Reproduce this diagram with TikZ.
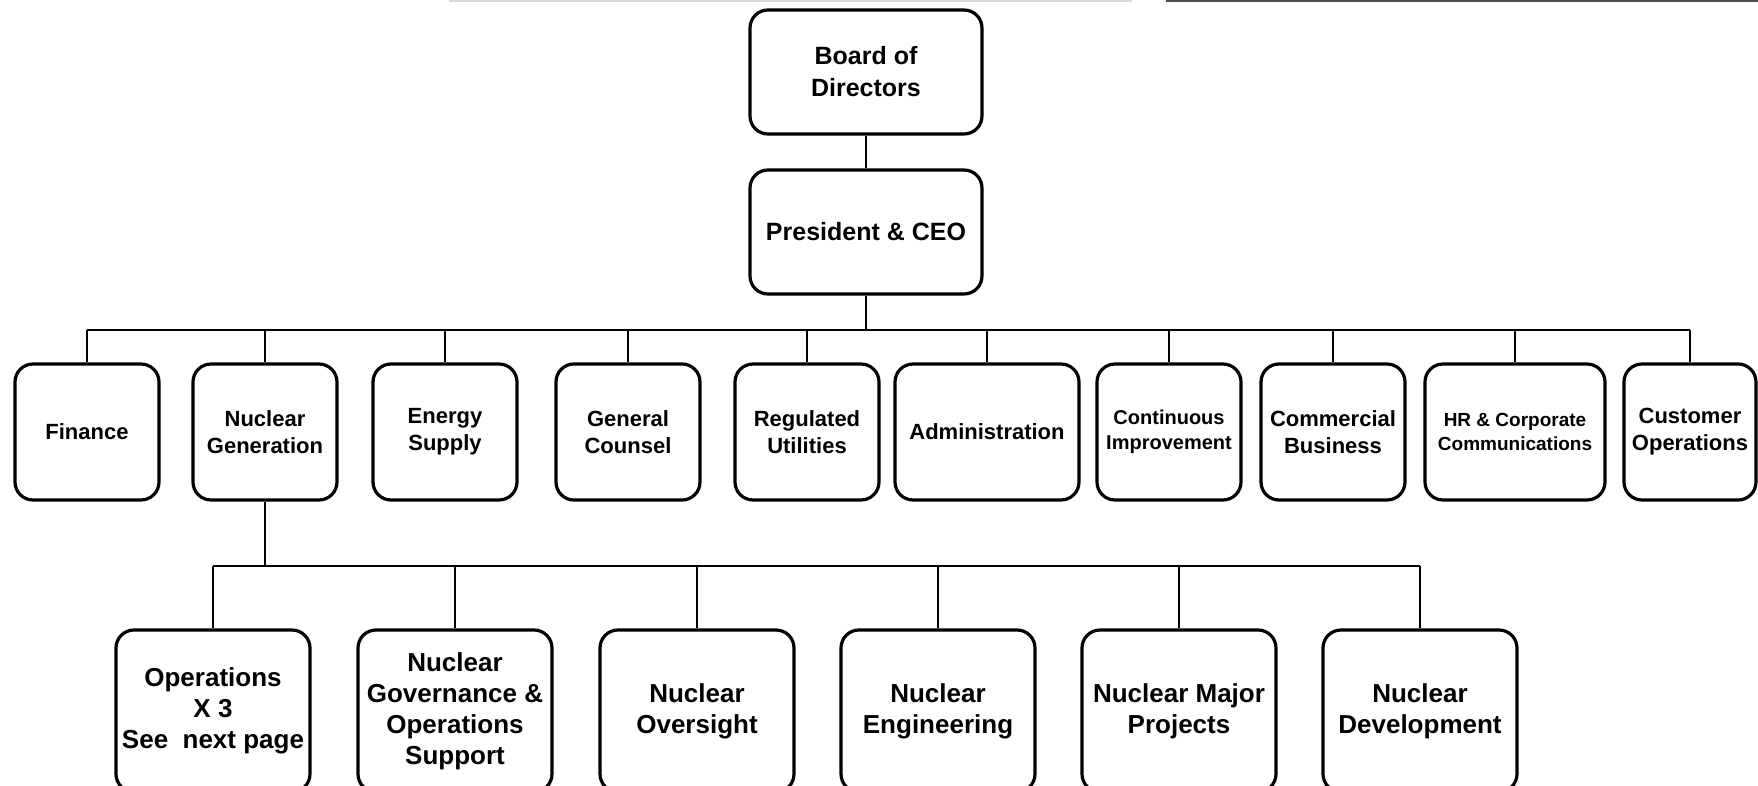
\documentclass[tikz,border=0pt]{standalone}
\usepackage{fontspec}
\setmainfont{Liberation Sans}
\usetikzlibrary{positioning}

\tikzstyle{orgbox} = [draw=black, fill=white, line width=1.6pt,
    rectangle, rounded corners=9pt, align=center, inner sep=2pt]
\tikzstyle{topbox} = [orgbox, minimum width=116pt, minimum height=62pt,
    font=\bfseries\fontsize{12.5}{16}\selectfont]
\tikzstyle{deptbox} = [orgbox, minimum width=72pt, minimum height=68pt,
    font=\bfseries\fontsize{11}{13.5}\selectfont]
\tikzstyle{unitbox} = [orgbox, minimum width=97pt, minimum height=81pt,
    font=\bfseries\fontsize{13}{15.5}\selectfont]
\tikzstyle{link} = [line width=0.8pt]
\tikzstyle{busline} = [line width=1.4pt]

\begin{document}
\begin{tikzpicture}[x=0.5pt, y=-0.5pt]
\useasboundingbox (0,0) rectangle (1758,786);
% scan edge at the top of the page
\draw[black!15, line width=0.8pt] (449,1) -- (1132,1);
\draw[black!70, line width=1pt] (1166,1) -- (1758,1);
%------------ Board und CEO ---------------------
\node [topbox] (board) at (866,72) {Board of\\Directors};
\node [topbox] (ceo) at (866,232) {President \& CEO};
\draw [link] (board) -- (ceo);
%------------ Bereiche ---------------------
\node [deptbox] (fin) at (87,432) {Finance};
\node [deptbox] (nucgen) at (265,432) {Nuclear\\Generation};
\node [deptbox] (energy) at (445,432) {Energy\\Supply};
\node [deptbox] (counsel) at (628,432) {General\\Counsel};
\node [deptbox] (regul) at (807,432) {Regulated\\Utilities};
\node [deptbox, minimum width=92pt] (admin) at (987,432) {Administration};
\node [deptbox, font=\bfseries\fontsize{10}{12.5}\selectfont] (contimp) at (1169,432)
    {Continuous\\Improvement};
\node [deptbox] (commerc) at (1333,432) {Commercial\\Business};
\node [deptbox, minimum width=90pt, font=\bfseries\fontsize{9.5}{12}\selectfont] (hrcomm)
    at (1515,432) {HR \& Corporate\\Communications};
\node [deptbox, minimum width=66pt] (custops) at (1690,432) {Customer\\Operations};

\coordinate (topbus) at (866,330);
\draw [busline] (ceo) -- (topbus);
\draw [busline] (fin.north |- topbus) -- (custops.north |- topbus);
\foreach \d in {fin,nucgen,energy,counsel,regul,admin,contimp,commerc,hrcomm,custops}
    \draw [link] (\d.north) -- (\d.north |- topbus);
%------------ Nuclear Generation ---------------------
\node [unitbox] (ops) at (213,711) {Operations\\X 3\\See\ \ next page};
\node [unitbox] (nucgov) at (455,711) {Nuclear\\Governance \&\\Operations\\Support};
\node [unitbox] (oversight) at (697,711) {Nuclear\\Oversight};
\node [unitbox] (engin) at (938,711) {Nuclear\\Engineering};
\node [unitbox] (majproj) at (1179,711) {Nuclear Major\\Projects};
\node [unitbox] (nucdev) at (1420,711) {Nuclear\\Development};

\coordinate (lowbus) at (266,566);
\draw [link] (nucgen) -- (nucgen.south |- lowbus);
\draw [link, line width=1pt] (ops.north |- lowbus) -- (nucdev.north |- lowbus);
\foreach \u in {ops,nucgov,oversight,engin,majproj,nucdev}
    \draw [link] (\u.north) -- (\u.north |- lowbus);
\end{tikzpicture}
\end{document}
